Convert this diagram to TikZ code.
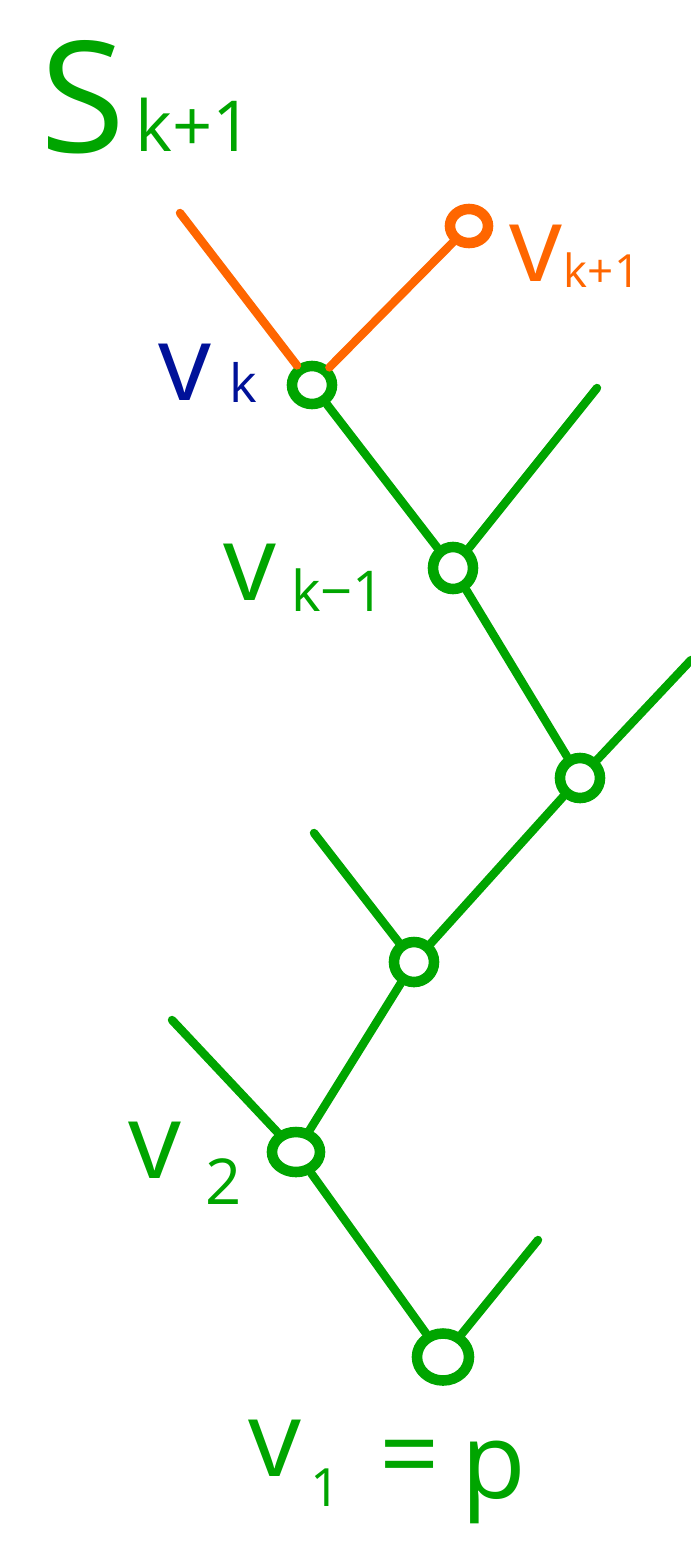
\documentclass[tikz,border=0pt]{standalone}
\usepackage{fontspec}
\setmainfont{Open Sans}
\usetikzlibrary{shapes.geometric}
\definecolor{hgreen}{RGB}{0,165,0}
\definecolor{horange}{RGB}{255,102,0}
\definecolor{hblue}{RGB}{0,17,153}
\begin{document}
\begin{tikzpicture}[x=0.01cm,y=-0.01cm,
  vert/.style={ellipse,draw,line width=3pt,inner sep=0pt},
  edge/.style={line width=2.4pt,line cap=round},
  big/.style={inner sep=0pt,font=\fontsize{30}{30}\selectfont},
  small/.style={inner sep=0pt,font=\fontsize{15}{15}\selectfont}]
\useasboundingbox (0,0) rectangle (691,1548);
% vertices
\node[vert,hgreen,minimum width=0.40cm,minimum height=0.38cm] (vk) at (312,385) {};
\node[vert,hgreen,minimum width=0.40cm,minimum height=0.42cm] (vkm1) at (453,568) {};
\node[vert,hgreen,minimum width=0.40cm,minimum height=0.40cm] (n3) at (580,778) {};
\node[vert,hgreen,minimum width=0.40cm,minimum height=0.40cm] (n4) at (414,962) {};
\node[vert,hgreen,minimum width=0.48cm,minimum height=0.40cm] (v2) at (296,1152) {};
\node[vert,hgreen,minimum width=0.52cm,minimum height=0.47cm] (v1) at (443,1357) {};
\node[vert,horange,minimum width=0.38cm,minimum height=0.34cm] (vkp1) at (469,226) {};
% free ends
\coordinate (o1) at (180,213);
\coordinate (d1) at (597,388);
\coordinate (d2) at (691,660);
\coordinate (d3) at (314,833);
\coordinate (d4) at (172,1020);
\coordinate (d5) at (538,1240);
% edges
\draw[edge,horange] (o1) -- (vk);
\draw[edge,horange] (vk) -- (vkp1);
\draw[edge,hgreen] (vk) -- (vkm1);
\draw[edge,hgreen] (d1) -- (vkm1);
\draw[edge,hgreen] (vkm1) -- (n3);
\draw[edge,hgreen] (d2) -- (n3);
\draw[edge,hgreen] (n3) -- (n4);
\draw[edge,hgreen] (d3) -- (n4);
\draw[edge,hgreen] (n4) -- (v2);
\draw[edge,hgreen] (d4) -- (v2);
\draw[edge,hgreen] (v2) -- (v1);
\draw[edge,hgreen] (d5) -- (v1);
% labels
\node[inner sep=0pt,hgreen,font=\fontsize{44}{44}\selectfont] (S) at (83,97) {S};
\node[inner sep=0pt,hgreen,font=\fontsize{20}{20}\selectfont] (Ssub) at (194,125) {k+1};
\node[big,hblue] (lvk) at (185,372) {v};
\node[small,hblue] (lvks) at (243,382) {k};
\node[big,horange] (lvkp) at (536,253) {v};
\node[small,horange,font=\fontsize{13}{13}\selectfont] (lvkps) at (602,270) {k+1};
\node[big,hgreen] (lvkm) at (250,572) {v};
\node[small,hgreen,font=\fontsize{16}{16}\selectfont] (lvkms) at (338,590) {k−1};
\node[big,hgreen] (lv2) at (155,1150) {v};
\node[small,hgreen,font=\fontsize{18}{18}\selectfont] (lv2s) at (224,1182) {2};
\node[big,hgreen] (lv1) at (275,1448) {v};
\node[small,hgreen] (lv1s) at (326,1488) {1};
\node[big,hgreen] (leq) at (410,1466) {=};
\node[big,hgreen] (lp) at (494,1482) {p};
\end{tikzpicture}
\end{document}
